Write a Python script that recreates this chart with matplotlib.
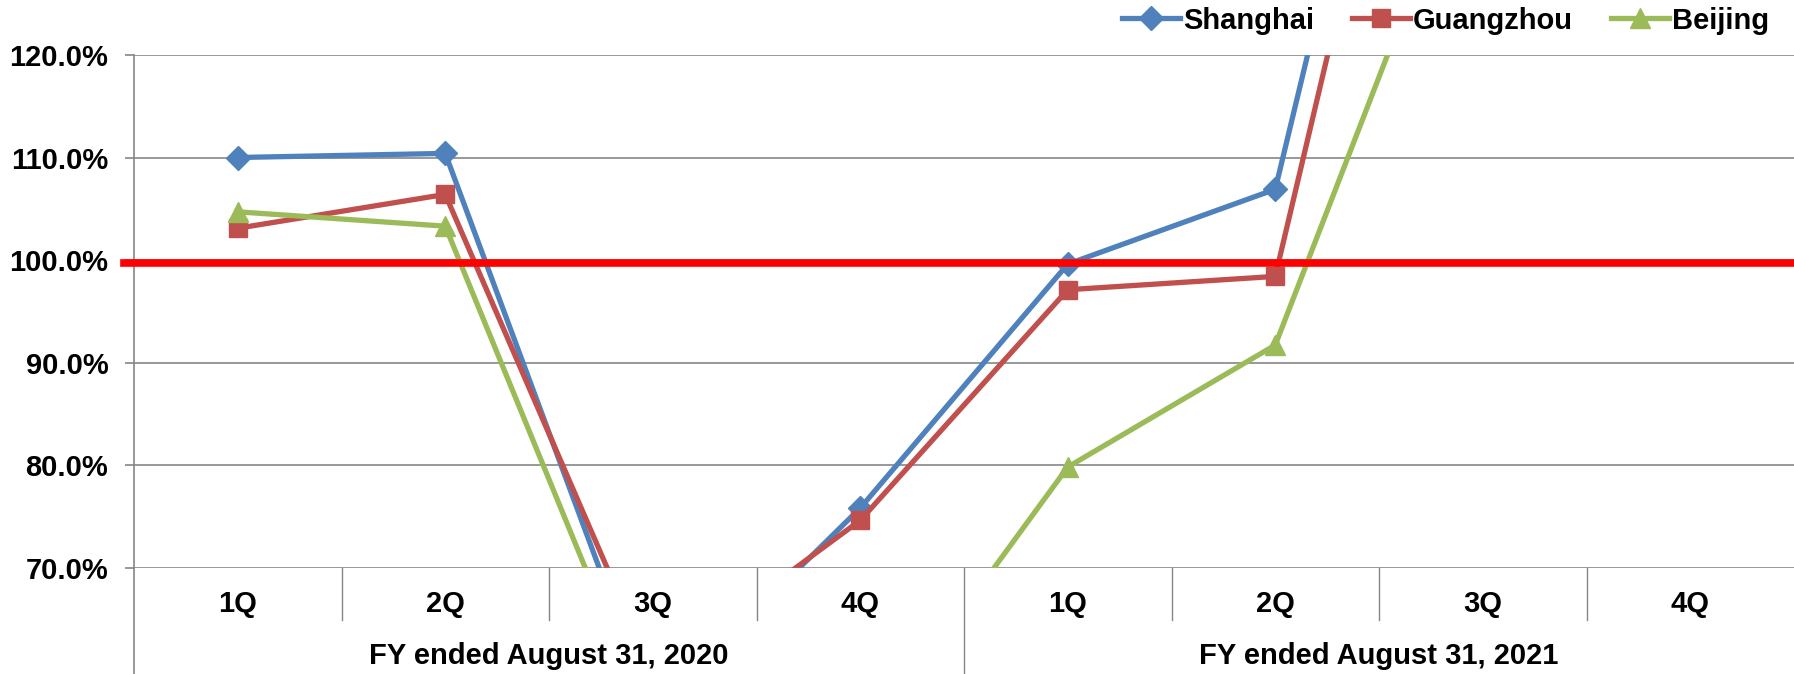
import numpy as np
import matplotlib
matplotlib.use("Agg")
import matplotlib.pyplot as plt
import matplotlib.transforms as mtransforms

# ----------------------------
# Data
# ----------------------------
quarters = ["1Q", "2Q", "3Q", "4Q", "1Q", "2Q", "3Q", "4Q"]
fiscal_years = ["FY ended August 31, 2020", "FY ended August 31, 2021"]

shanghai = [110.0, 110.4, 55.9, 75.8, 99.6, 106.9, 191.0, np.nan]
guangzhou = [103.1, 106.4, 59.7, 74.6, 97.1, 98.4, 184.0, np.nan]
beijing = [104.7, 103.3, 53.9, 52.1, 79.8, 91.7, 144.0, np.nan]

target = 99.7
y_ticks = [70, 80, 90, 100, 110, 120]

# ----------------------------
# Style
# ----------------------------
plt.rcParams["font.family"] = ["Liberation Sans", "DejaVu Sans"]
plt.rcParams["font.weight"] = "bold"
FS = 21
GRID = "#868686"

series = [
    ("Shanghai", shanghai, "#4F81BD", "D", 12),
    ("Guangzhou", guangzhou, "#C0504D", "s", 13.5),
    ("Beijing", beijing, "#9BBB59", "^", 14),
]

fig = plt.figure(figsize=(17.94, 6.74), dpi=100)
ax = fig.add_axes([134 / 1794, 1 - 567.5 / 674, 1 - 134 / 1794, 512.5 / 674])

x = np.arange(len(quarters))
for name, vals, color, marker, ms in series:
    ax.plot(x, vals, color=color, lw=3.8, marker=marker, markersize=ms,
            markeredgecolor=color, label=name, zorder=3)

ax.axhline(target, xmin=-0.006, xmax=1, color="#FF0000", lw=5.5,
           clip_on=False, zorder=5)

ax.set_xlim(-0.5, len(quarters) - 0.5)
ax.set_ylim(70, 120)
ax.set_yticks(y_ticks)
ax.set_yticklabels([f"{v:.1f}%" for v in y_ticks], fontsize=FS, fontweight="bold")
ax.tick_params(axis="y", length=6.5, width=1.2, color=GRID, pad=12)
ax.set_xticks([])
ax.yaxis.grid(True, color=GRID, lw=1.2)
ax.set_axisbelow(True)

for side in ["top", "right", "bottom"]:
    ax.spines[side].set_visible(False)
ax.spines["left"].set_color(GRID)
ax.spines["left"].set_linewidth(1.2)

# two-level category axis
trans = mtransforms.blended_transform_factory(ax.transData, ax.transAxes)
h = 512.5
for i in range(1, len(quarters)):
    bottom = -52.5 / h if i != 4 else -107 / h
    ax.plot([i - 0.5, i - 0.5], [0, bottom], color=GRID, lw=1.0,
            transform=trans, clip_on=False)
ax.plot([-0.5, -0.5], [0, -107 / h], color=GRID, lw=1.2,
        transform=trans, clip_on=False)

for i, q in enumerate(quarters):
    ax.text(i, -36.5 / h, q, transform=trans, ha="center", va="center",
            fontsize=FS, fontweight="bold")
for j, fy in enumerate(fiscal_years):
    ax.text(1.5 + 4 * j, -88 / h, fy, transform=trans, ha="center",
            va="center", fontsize=FS, fontweight="bold")

fig.legend(loc="upper right", bbox_to_anchor=(1 - 10 / 1794, 1 + 8 / 674),
           ncol=3, frameon=False, handlelength=2.0,
           handletextpad=0.1, columnspacing=1.3, borderpad=0,
           prop={"weight": "bold", "size": FS})

fig.savefig("out.png", dpi=100)
